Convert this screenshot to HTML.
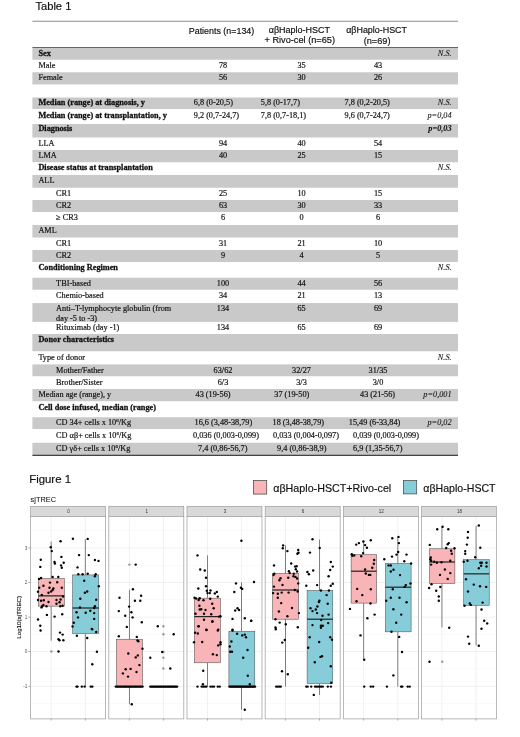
<!DOCTYPE html>
<html lang="en"><head><meta charset="utf-8"><title>Table 1 / Figure 1</title>
<style>html,body{margin:0;padding:0;background:#fff;}body{width:520px;height:737px;overflow:hidden;font-family:"Liberation Sans",sans-serif;}text{white-space:pre}</style>
</head><body>
<svg width="520" height="737" viewBox="0 0 520 737" style="display:block">
<rect x="32.4" y="47.75" width="425.6" height="12.00" fill="#c9c9c9"/>
<rect x="32.4" y="72.25" width="425.6" height="12.15" fill="#c9c9c9"/>
<rect x="32.4" y="97.5" width="425.6" height="11.50" fill="#c9c9c9"/>
<rect x="32.4" y="124" width="425.6" height="13.50" fill="#c9c9c9"/>
<rect x="32.4" y="150" width="425.6" height="12.25" fill="#c9c9c9"/>
<rect x="32.4" y="175" width="425.6" height="12.75" fill="#c9c9c9"/>
<rect x="32.4" y="200" width="425.6" height="12.00" fill="#c9c9c9"/>
<rect x="32.4" y="225" width="425.6" height="12.50" fill="#c9c9c9"/>
<rect x="32.4" y="250" width="425.6" height="12.00" fill="#c9c9c9"/>
<rect x="32.4" y="277.75" width="425.6" height="12.00" fill="#c9c9c9"/>
<rect x="32.4" y="303.1" width="425.6" height="18.80" fill="#c9c9c9"/>
<rect x="32.4" y="334" width="425.6" height="17.25" fill="#c9c9c9"/>
<rect x="32.4" y="364.4" width="425.6" height="11.85" fill="#c9c9c9"/>
<rect x="32.4" y="389" width="425.6" height="12.25" fill="#c9c9c9"/>
<rect x="32.4" y="417.25" width="425.6" height="11.75" fill="#c9c9c9"/>
<rect x="32.4" y="442.75" width="425.6" height="12.15" fill="#c9c9c9"/>
<rect x="32.4" y="20.8" width="425.6" height="0.75" fill="#666"/>
<rect x="32.4" y="47.0" width="425.6" height="0.9" fill="#555"/>
<rect x="32.4" y="454.7" width="425.6" height="1.3" fill="#444"/>
<text x="35.4" y="10" font-family="'Liberation Sans', sans-serif" font-size="11.6" textLength="36" lengthAdjust="spacingAndGlyphs" fill="#111" stroke="#111" stroke-width="0.18" >Table 1</text>
<text x="221.5" y="33.6" font-family="'Liberation Sans', sans-serif" font-size="9.5" text-anchor="middle" textLength="65.5" lengthAdjust="spacingAndGlyphs" fill="#111" stroke="#111" stroke-width="0.18" >Patients (n=134)</text>
<text x="299.4" y="32.6" font-family="'Liberation Sans', sans-serif" font-size="9.5" text-anchor="middle" textLength="61.3" lengthAdjust="spacingAndGlyphs" fill="#111" stroke="#111" stroke-width="0.18" >αβHaplo-HSCT</text>
<text x="299.75" y="43.3" font-family="'Liberation Sans', sans-serif" font-size="9.5" text-anchor="middle" textLength="70.5" lengthAdjust="spacingAndGlyphs" fill="#111" stroke="#111" stroke-width="0.18" >+ Rivo-cel (n=65)</text>
<text x="376.6" y="32.9" font-family="'Liberation Sans', sans-serif" font-size="9.5" text-anchor="middle" textLength="60.8" lengthAdjust="spacingAndGlyphs" fill="#111" stroke="#111" stroke-width="0.18" >αβHaplo-HSCT</text>
<text x="377.1" y="43.7" font-family="'Liberation Sans', sans-serif" font-size="9.5" text-anchor="middle" textLength="26.8" lengthAdjust="spacingAndGlyphs" fill="#111" stroke="#111" stroke-width="0.18" >(n=69)</text>
<text x="38.4" y="55.95" font-family="'Liberation Serif', serif" font-size="8.25" font-weight="bold" fill="#111" stroke="#111" stroke-width="0.28" >Sex</text>
<text x="451.6" y="55.95" font-family="'Liberation Serif', serif" font-size="8.25" text-anchor="end" font-style="italic" fill="#111" stroke="#111" stroke-width="0.08" >N.S.</text>
<text x="38.4" y="68.1" font-family="'Liberation Serif', serif" font-size="8.25" fill="#111" stroke="#111" stroke-width="0.18" >Male</text>
<text x="223" y="68.1" font-family="'Liberation Serif', serif" font-size="8.25" text-anchor="middle" fill="#111" stroke="#111" stroke-width="0.18" >78</text>
<text x="301.5" y="68.1" font-family="'Liberation Serif', serif" font-size="8.25" text-anchor="middle" fill="#111" stroke="#111" stroke-width="0.18" >35</text>
<text x="378" y="68.1" font-family="'Liberation Serif', serif" font-size="8.25" text-anchor="middle" fill="#111" stroke="#111" stroke-width="0.18" >43</text>
<text x="38.4" y="80.35" font-family="'Liberation Serif', serif" font-size="8.25" fill="#111" stroke="#111" stroke-width="0.18" >Female</text>
<text x="223" y="80.35" font-family="'Liberation Serif', serif" font-size="8.25" text-anchor="middle" fill="#111" stroke="#111" stroke-width="0.18" >56</text>
<text x="301.5" y="80.35" font-family="'Liberation Serif', serif" font-size="8.25" text-anchor="middle" fill="#111" stroke="#111" stroke-width="0.18" >30</text>
<text x="378" y="80.35" font-family="'Liberation Serif', serif" font-size="8.25" text-anchor="middle" fill="#111" stroke="#111" stroke-width="0.18" >26</text>
<text x="38.4" y="105.1" font-family="'Liberation Serif', serif" font-size="8.25" font-weight="bold" fill="#111" stroke="#111" stroke-width="0.28" >Median (range) at diagnosis, y</text>
<text x="193.75" y="105.1" font-family="'Liberation Serif', serif" font-size="8.25" fill="#111" stroke="#111" stroke-width="0.18" >6,8 (0-20,5)</text>
<text x="260.75" y="105.1" font-family="'Liberation Serif', serif" font-size="8.25" fill="#111" stroke="#111" stroke-width="0.18" >5,8 (0-17,7)</text>
<text x="344.5" y="105.1" font-family="'Liberation Serif', serif" font-size="8.25" fill="#111" stroke="#111" stroke-width="0.18" >7,8 (0,2-20,5)</text>
<text x="451.6" y="105.1" font-family="'Liberation Serif', serif" font-size="8.25" text-anchor="end" font-style="italic" fill="#111" stroke="#111" stroke-width="0.08" >N.S.</text>
<text x="38.4" y="118.1" font-family="'Liberation Serif', serif" font-size="8.25" font-weight="bold" fill="#111" stroke="#111" stroke-width="0.28" >Median (range) at transplantation, y</text>
<text x="193.75" y="118.1" font-family="'Liberation Serif', serif" font-size="8.25" fill="#111" stroke="#111" stroke-width="0.18" >9,2 (0,7-24,7)</text>
<text x="260.75" y="118.1" font-family="'Liberation Serif', serif" font-size="8.25" fill="#111" stroke="#111" stroke-width="0.18" >7,8 (0,7-18,1)</text>
<text x="344.5" y="118.1" font-family="'Liberation Serif', serif" font-size="8.25" fill="#111" stroke="#111" stroke-width="0.18" >9,6 (0,7-24,7)</text>
<text x="451.6" y="118.1" font-family="'Liberation Serif', serif" font-size="8.25" text-anchor="end" font-style="italic" fill="#111" stroke="#111" stroke-width="0.08" >p=0,04</text>
<text x="38.4" y="131.35" font-family="'Liberation Serif', serif" font-size="8.25" font-weight="bold" fill="#111" stroke="#111" stroke-width="0.28" >Diagnosis</text>
<text x="451.6" y="131.35" font-family="'Liberation Serif', serif" font-size="8.25" text-anchor="end" font-weight="bold" font-style="italic" fill="#111" stroke="#111" stroke-width="0.08" >p=0,03</text>
<text x="38.4" y="146.15" font-family="'Liberation Serif', serif" font-size="8.25" fill="#111" stroke="#111" stroke-width="0.18" >LLA</text>
<text x="223" y="146.15" font-family="'Liberation Serif', serif" font-size="8.25" text-anchor="middle" fill="#111" stroke="#111" stroke-width="0.18" >94</text>
<text x="301.5" y="146.15" font-family="'Liberation Serif', serif" font-size="8.25" text-anchor="middle" fill="#111" stroke="#111" stroke-width="0.18" >40</text>
<text x="378" y="146.15" font-family="'Liberation Serif', serif" font-size="8.25" text-anchor="middle" fill="#111" stroke="#111" stroke-width="0.18" >54</text>
<text x="38.4" y="157.85" font-family="'Liberation Serif', serif" font-size="8.25" fill="#111" stroke="#111" stroke-width="0.18" >LMA</text>
<text x="223" y="157.85" font-family="'Liberation Serif', serif" font-size="8.25" text-anchor="middle" fill="#111" stroke="#111" stroke-width="0.18" >40</text>
<text x="301.5" y="157.85" font-family="'Liberation Serif', serif" font-size="8.25" text-anchor="middle" fill="#111" stroke="#111" stroke-width="0.18" >25</text>
<text x="378" y="157.85" font-family="'Liberation Serif', serif" font-size="8.25" text-anchor="middle" fill="#111" stroke="#111" stroke-width="0.18" >15</text>
<text x="38.4" y="170.35" font-family="'Liberation Serif', serif" font-size="8.25" font-weight="bold" fill="#111" stroke="#111" stroke-width="0.28" >Disease status at transplantation</text>
<text x="451.6" y="170.35" font-family="'Liberation Serif', serif" font-size="8.25" text-anchor="end" font-style="italic" fill="#111" stroke="#111" stroke-width="0.08" >N.S.</text>
<text x="38.4" y="183.35" font-family="'Liberation Serif', serif" font-size="8.25" fill="#111" stroke="#111" stroke-width="0.18" >ALL</text>
<text x="56.1" y="195.75" font-family="'Liberation Serif', serif" font-size="8.25" fill="#111" stroke="#111" stroke-width="0.18" >CR1</text>
<text x="223" y="195.75" font-family="'Liberation Serif', serif" font-size="8.25" text-anchor="middle" fill="#111" stroke="#111" stroke-width="0.18" >25</text>
<text x="301.5" y="195.75" font-family="'Liberation Serif', serif" font-size="8.25" text-anchor="middle" fill="#111" stroke="#111" stroke-width="0.18" >10</text>
<text x="378" y="195.75" font-family="'Liberation Serif', serif" font-size="8.25" text-anchor="middle" fill="#111" stroke="#111" stroke-width="0.18" >15</text>
<text x="56.1" y="207.85" font-family="'Liberation Serif', serif" font-size="8.25" fill="#111" stroke="#111" stroke-width="0.18" >CR2</text>
<text x="223" y="207.85" font-family="'Liberation Serif', serif" font-size="8.25" text-anchor="middle" fill="#111" stroke="#111" stroke-width="0.18" >63</text>
<text x="301.5" y="207.85" font-family="'Liberation Serif', serif" font-size="8.25" text-anchor="middle" fill="#111" stroke="#111" stroke-width="0.18" >30</text>
<text x="378" y="207.85" font-family="'Liberation Serif', serif" font-size="8.25" text-anchor="middle" fill="#111" stroke="#111" stroke-width="0.18" >33</text>
<text x="56.1" y="220.35" font-family="'Liberation Serif', serif" font-size="8.25" fill="#111" stroke="#111" stroke-width="0.18" >≥ CR3</text>
<text x="223" y="220.35" font-family="'Liberation Serif', serif" font-size="8.25" text-anchor="middle" fill="#111" stroke="#111" stroke-width="0.18" >6</text>
<text x="301.5" y="220.35" font-family="'Liberation Serif', serif" font-size="8.25" text-anchor="middle" fill="#111" stroke="#111" stroke-width="0.18" >0</text>
<text x="378" y="220.35" font-family="'Liberation Serif', serif" font-size="8.25" text-anchor="middle" fill="#111" stroke="#111" stroke-width="0.18" >6</text>
<text x="38.4" y="233.35" font-family="'Liberation Serif', serif" font-size="8.25" fill="#111" stroke="#111" stroke-width="0.18" >AML</text>
<text x="56.1" y="245.75" font-family="'Liberation Serif', serif" font-size="8.25" fill="#111" stroke="#111" stroke-width="0.18" >CR1</text>
<text x="223" y="245.75" font-family="'Liberation Serif', serif" font-size="8.25" text-anchor="middle" fill="#111" stroke="#111" stroke-width="0.18" >31</text>
<text x="301.5" y="245.75" font-family="'Liberation Serif', serif" font-size="8.25" text-anchor="middle" fill="#111" stroke="#111" stroke-width="0.18" >21</text>
<text x="378" y="245.75" font-family="'Liberation Serif', serif" font-size="8.25" text-anchor="middle" fill="#111" stroke="#111" stroke-width="0.18" >10</text>
<text x="56.1" y="257.85" font-family="'Liberation Serif', serif" font-size="8.25" fill="#111" stroke="#111" stroke-width="0.18" >CR2</text>
<text x="223" y="257.85" font-family="'Liberation Serif', serif" font-size="8.25" text-anchor="middle" fill="#111" stroke="#111" stroke-width="0.18" >9</text>
<text x="301.5" y="257.85" font-family="'Liberation Serif', serif" font-size="8.25" text-anchor="middle" fill="#111" stroke="#111" stroke-width="0.18" >4</text>
<text x="378" y="257.85" font-family="'Liberation Serif', serif" font-size="8.25" text-anchor="middle" fill="#111" stroke="#111" stroke-width="0.18" >5</text>
<text x="38.4" y="270.1" font-family="'Liberation Serif', serif" font-size="8.25" font-weight="bold" fill="#111" stroke="#111" stroke-width="0.28" >Conditioning Regimen</text>
<text x="451.6" y="270.1" font-family="'Liberation Serif', serif" font-size="8.25" text-anchor="end" font-style="italic" fill="#111" stroke="#111" stroke-width="0.08" >N.S.</text>
<text x="56.1" y="285.6" font-family="'Liberation Serif', serif" font-size="8.25" fill="#111" stroke="#111" stroke-width="0.18" >TBI-based</text>
<text x="223" y="285.6" font-family="'Liberation Serif', serif" font-size="8.25" text-anchor="middle" fill="#111" stroke="#111" stroke-width="0.18" >100</text>
<text x="301.5" y="285.6" font-family="'Liberation Serif', serif" font-size="8.25" text-anchor="middle" fill="#111" stroke="#111" stroke-width="0.18" >44</text>
<text x="378" y="285.6" font-family="'Liberation Serif', serif" font-size="8.25" text-anchor="middle" fill="#111" stroke="#111" stroke-width="0.18" >56</text>
<text x="56.1" y="297.85" font-family="'Liberation Serif', serif" font-size="8.25" fill="#111" stroke="#111" stroke-width="0.18" >Chemio-based</text>
<text x="223" y="297.85" font-family="'Liberation Serif', serif" font-size="8.25" text-anchor="middle" fill="#111" stroke="#111" stroke-width="0.18" >34</text>
<text x="301.5" y="297.85" font-family="'Liberation Serif', serif" font-size="8.25" text-anchor="middle" fill="#111" stroke="#111" stroke-width="0.18" >21</text>
<text x="378" y="297.85" font-family="'Liberation Serif', serif" font-size="8.25" text-anchor="middle" fill="#111" stroke="#111" stroke-width="0.18" >13</text>
<text x="56.1" y="310.95" font-family="'Liberation Serif', serif" font-size="8.25" fill="#111" stroke="#111" stroke-width="0.18" >Anti–T-lymphocyte globulin (from</text>
<text x="223" y="310.95" font-family="'Liberation Serif', serif" font-size="8.25" text-anchor="middle" fill="#111" stroke="#111" stroke-width="0.18" >134</text>
<text x="301.5" y="310.95" font-family="'Liberation Serif', serif" font-size="8.25" text-anchor="middle" fill="#111" stroke="#111" stroke-width="0.18" >65</text>
<text x="378" y="310.95" font-family="'Liberation Serif', serif" font-size="8.25" text-anchor="middle" fill="#111" stroke="#111" stroke-width="0.18" >69</text>
<text x="56.1" y="321.25" font-family="'Liberation Serif', serif" font-size="8.25" fill="#111" stroke="#111" stroke-width="0.18" >day -5 to -3)</text>
<text x="56.1" y="330.15" font-family="'Liberation Serif', serif" font-size="8.25" fill="#111" stroke="#111" stroke-width="0.18" >Rituximab (day -1)</text>
<text x="223" y="330.15" font-family="'Liberation Serif', serif" font-size="8.25" text-anchor="middle" fill="#111" stroke="#111" stroke-width="0.18" >134</text>
<text x="301.5" y="330.15" font-family="'Liberation Serif', serif" font-size="8.25" text-anchor="middle" fill="#111" stroke="#111" stroke-width="0.18" >65</text>
<text x="378" y="330.15" font-family="'Liberation Serif', serif" font-size="8.25" text-anchor="middle" fill="#111" stroke="#111" stroke-width="0.18" >69</text>
<text x="38.4" y="341.85" font-family="'Liberation Serif', serif" font-size="8.25" font-weight="bold" fill="#111" stroke="#111" stroke-width="0.28" >Donor characteristics</text>
<text x="38.4" y="360.35" font-family="'Liberation Serif', serif" font-size="8.25" fill="#111" stroke="#111" stroke-width="0.18" >Type of donor</text>
<text x="451.6" y="360.35" font-family="'Liberation Serif', serif" font-size="8.25" text-anchor="end" font-style="italic" fill="#111" stroke="#111" stroke-width="0.08" >N.S.</text>
<text x="56.1" y="373.05" font-family="'Liberation Serif', serif" font-size="8.25" fill="#111" stroke="#111" stroke-width="0.18" >Mother/Father</text>
<text x="223" y="373.05" font-family="'Liberation Serif', serif" font-size="8.25" text-anchor="middle" fill="#111" stroke="#111" stroke-width="0.18" >63/62</text>
<text x="301.5" y="373.05" font-family="'Liberation Serif', serif" font-size="8.25" text-anchor="middle" fill="#111" stroke="#111" stroke-width="0.18" >32/27</text>
<text x="378" y="373.05" font-family="'Liberation Serif', serif" font-size="8.25" text-anchor="middle" fill="#111" stroke="#111" stroke-width="0.18" >31/35</text>
<text x="56.1" y="384.85" font-family="'Liberation Serif', serif" font-size="8.25" fill="#111" stroke="#111" stroke-width="0.18" >Brother/Sister</text>
<text x="223" y="384.85" font-family="'Liberation Serif', serif" font-size="8.25" text-anchor="middle" fill="#111" stroke="#111" stroke-width="0.18" >6/3</text>
<text x="301.5" y="384.85" font-family="'Liberation Serif', serif" font-size="8.25" text-anchor="middle" fill="#111" stroke="#111" stroke-width="0.18" >3/3</text>
<text x="378" y="384.85" font-family="'Liberation Serif', serif" font-size="8.25" text-anchor="middle" fill="#111" stroke="#111" stroke-width="0.18" >3/0</text>
<text x="38.4" y="397.25" font-family="'Liberation Serif', serif" font-size="8.25" fill="#111" stroke="#111" stroke-width="0.18" >Median age (range), y</text>
<text x="195.5" y="397.25" font-family="'Liberation Serif', serif" font-size="8.25" fill="#111" stroke="#111" stroke-width="0.18" >43 (19-56)</text>
<text x="274.25" y="397.25" font-family="'Liberation Serif', serif" font-size="8.25" fill="#111" stroke="#111" stroke-width="0.18" >37 (19-50)</text>
<text x="360" y="397.25" font-family="'Liberation Serif', serif" font-size="8.25" fill="#111" stroke="#111" stroke-width="0.18" >43 (21-56)</text>
<text x="451.6" y="397.25" font-family="'Liberation Serif', serif" font-size="8.25" text-anchor="end" font-style="italic" fill="#111" stroke="#111" stroke-width="0.08" >p=0,001</text>
<text x="38.4" y="409.75" font-family="'Liberation Serif', serif" font-size="8.25" font-weight="bold" fill="#111" stroke="#111" stroke-width="0.28" >Cell dose infused, median (range)</text>
<text x="56.1" y="425.35" font-family="'Liberation Serif', serif" font-size="8.25" fill="#111" stroke="#111" stroke-width="0.18" >CD 34+ cells x 10<tspan font-size="5" dy="-3">6</tspan><tspan dy="3">/Kg</tspan></text>
<text x="194.5" y="425.35" font-family="'Liberation Serif', serif" font-size="8.25" fill="#111" stroke="#111" stroke-width="0.18" >16,6 (3,48-38,79)</text>
<text x="272.5" y="425.35" font-family="'Liberation Serif', serif" font-size="8.25" fill="#111" stroke="#111" stroke-width="0.18" >18 (3,48-38,79)</text>
<text x="348.75" y="425.35" font-family="'Liberation Serif', serif" font-size="8.25" fill="#111" stroke="#111" stroke-width="0.18" >15,49 (6-33,84)</text>
<text x="451.6" y="425.35" font-family="'Liberation Serif', serif" font-size="8.25" text-anchor="end" font-style="italic" fill="#111" stroke="#111" stroke-width="0.08" >p=0,02</text>
<text x="56.1" y="437.85" font-family="'Liberation Serif', serif" font-size="8.25" fill="#111" stroke="#111" stroke-width="0.18" >CD αβ+ cells x 10<tspan font-size="5" dy="-3">6</tspan><tspan dy="3">/Kg</tspan></text>
<text x="193" y="437.85" font-family="'Liberation Serif', serif" font-size="8.25" fill="#111" stroke="#111" stroke-width="0.18" >0,036 (0,003-0,099)</text>
<text x="273" y="437.85" font-family="'Liberation Serif', serif" font-size="8.25" fill="#111" stroke="#111" stroke-width="0.18" >0,033 (0,004-0,097)</text>
<text x="353" y="437.85" font-family="'Liberation Serif', serif" font-size="8.25" fill="#111" stroke="#111" stroke-width="0.18" >0,039 (0,003-0,099)</text>
<text x="56.1" y="450.95" font-family="'Liberation Serif', serif" font-size="8.25" fill="#111" stroke="#111" stroke-width="0.18" >CD γδ+ cells x 10<tspan font-size="5" dy="-3">6</tspan><tspan dy="3">/Kg</tspan></text>
<text x="198" y="450.95" font-family="'Liberation Serif', serif" font-size="8.25" fill="#111" stroke="#111" stroke-width="0.18" >7,4 (0,86-56,7)</text>
<text x="277" y="450.95" font-family="'Liberation Serif', serif" font-size="8.25" fill="#111" stroke="#111" stroke-width="0.18" >9,4 (0,86-38,9)</text>
<text x="353" y="450.95" font-family="'Liberation Serif', serif" font-size="8.25" fill="#111" stroke="#111" stroke-width="0.18" >6,9 (1,35-56,7)</text>
<text x="29.2" y="483.3" font-family="'Liberation Sans', sans-serif" font-size="11.6" textLength="41.8" lengthAdjust="spacingAndGlyphs" fill="#111" stroke="#111" stroke-width="0.18" >Figure 1</text>
<text x="30.6" y="501.9" font-family="'Liberation Sans', sans-serif" font-size="7.3" textLength="25.4" lengthAdjust="spacingAndGlyphs" fill="#111" stroke="#111" stroke-width="0.05" >sjTREC</text>
<rect x="253.4" y="480.5" width="13.3" height="13.6" fill="#f8b4b6" stroke="#4a4a4a" stroke-width="0.75"/>
<text x="273.25" y="492" font-family="'Liberation Sans', sans-serif" font-size="11.6" textLength="118" lengthAdjust="spacingAndGlyphs" fill="#111" stroke="#111" stroke-width="0.18" >αβHaplo-HSCT+Rivo-cel</text>
<rect x="403.4" y="480.5" width="13.3" height="13.4" fill="#86ccd9" stroke="#4a4a4a" stroke-width="0.75"/>
<text x="423.3" y="491.7" font-family="'Liberation Sans', sans-serif" font-size="11.6" textLength="72.3" lengthAdjust="spacingAndGlyphs" fill="#111" stroke="#111" stroke-width="0.18" >αβHaplo-HSCT</text>
<text x="0" y="0" font-family="'Liberation Sans', sans-serif" font-size="6.0" text-anchor="middle" textLength="43" lengthAdjust="spacingAndGlyphs" fill="#111" stroke="#111" stroke-width="0.12" transform="translate(20.6,617.3) rotate(-90)">Log10(sjTREC)</text>
<text x="27.3" y="549.5" font-family="'Liberation Sans', sans-serif" font-size="4.7" text-anchor="end" fill="#555" stroke="#555" stroke-width="0" >3</text>
<rect x="28.3" y="547.75" width="2.2" height="0.5" fill="#555"/>
<text x="27.3" y="584.05" font-family="'Liberation Sans', sans-serif" font-size="4.7" text-anchor="end" fill="#555" stroke="#555" stroke-width="0" >2</text>
<rect x="28.3" y="582.30" width="2.2" height="0.5" fill="#555"/>
<text x="27.3" y="618.6" font-family="'Liberation Sans', sans-serif" font-size="4.7" text-anchor="end" fill="#555" stroke="#555" stroke-width="0" >1</text>
<rect x="28.3" y="616.85" width="2.2" height="0.5" fill="#555"/>
<text x="27.3" y="653.15" font-family="'Liberation Sans', sans-serif" font-size="4.7" text-anchor="end" fill="#555" stroke="#555" stroke-width="0" >0</text>
<rect x="28.3" y="651.40" width="2.2" height="0.5" fill="#555"/>
<text x="27.3" y="687.6999999999999" font-family="'Liberation Sans', sans-serif" font-size="4.7" text-anchor="end" fill="#555" stroke="#555" stroke-width="0" >-1</text>
<rect x="28.3" y="685.95" width="2.2" height="0.5" fill="#555"/>
<rect x="30.65" y="506.3" width="75.0" height="10.10" fill="#d9d9d9" stroke="#8c8c8c" stroke-width="0.55"/>
<text x="68.55000000000001" y="513.3" font-family="'Liberation Sans', sans-serif" font-size="4.5" text-anchor="middle" fill="#333" stroke="#333" stroke-width="0" >0</text>
<rect x="30.65" y="516.4" width="75.0" height="202.50" fill="#fff"/>
<rect x="30.65" y="530.52" width="75.0" height="0.4" fill="#f2f2f2"/>
<rect x="30.65" y="565.07" width="75.0" height="0.4" fill="#f2f2f2"/>
<rect x="30.65" y="599.62" width="75.0" height="0.4" fill="#f2f2f2"/>
<rect x="30.65" y="634.17" width="75.0" height="0.4" fill="#f2f2f2"/>
<rect x="30.65" y="668.72" width="75.0" height="0.4" fill="#f2f2f2"/>
<rect x="30.65" y="703.27" width="75.0" height="0.4" fill="#f2f2f2"/>
<rect x="30.65" y="547.70" width="75.0" height="0.6" fill="#e8e8e8"/>
<rect x="30.65" y="582.25" width="75.0" height="0.6" fill="#e8e8e8"/>
<rect x="30.65" y="616.80" width="75.0" height="0.6" fill="#e8e8e8"/>
<rect x="30.65" y="651.35" width="75.0" height="0.6" fill="#e8e8e8"/>
<rect x="30.65" y="685.90" width="75.0" height="0.6" fill="#e8e8e8"/>
<rect x="50.80" y="516.4" width="0.6" height="202.50" fill="#e8e8e8"/>
<rect x="50.85" y="718.9" width="0.5" height="1.6" fill="#555"/>
<rect x="84.90" y="516.4" width="0.6" height="202.50" fill="#e8e8e8"/>
<rect x="84.95" y="718.9" width="0.5" height="1.6" fill="#555"/>
<rect x="50.80" y="541.5" width="0.6" height="37.00" fill="#333"/>
<rect x="50.80" y="606.15" width="0.6" height="34.65" fill="#333"/>
<rect x="38.3" y="578.5" width="26.00" height="27.65" fill="#f8b4b6" stroke="#444" stroke-width="0.5"/>
<rect x="38.3" y="595.25" width="26.00" height="1.2" fill="#222"/>
<rect x="84.90" y="539.2" width="0.6" height="35.70" fill="#333"/>
<rect x="84.90" y="633.5" width="0.6" height="53.10" fill="#333"/>
<rect x="72.6" y="574.9" width="26.20" height="58.60" fill="#86ccd9" stroke="#444" stroke-width="0.5"/>
<rect x="72.6" y="607.40" width="26.20" height="1.2" fill="#222"/>
<circle cx="60.6" cy="541.2" r="1.2" fill="#000"/>
<circle cx="50.8" cy="547.2" r="1.2" fill="#000"/>
<circle cx="51.8" cy="551.1" r="1.2" fill="#000"/>
<circle cx="40.8" cy="559.7" r="1.2" fill="#000"/>
<circle cx="61.4" cy="556.9" r="1.2" fill="#000"/>
<circle cx="54.5" cy="562.0" r="1.2" fill="#000"/>
<circle cx="54.9" cy="563.5" r="1.2" fill="#000"/>
<circle cx="63.7" cy="562.8" r="1.2" fill="#000"/>
<circle cx="61.1" cy="565.4" r="1.2" fill="#000"/>
<circle cx="40.3" cy="566.9" r="1.2" fill="#000"/>
<circle cx="61.8" cy="567.7" r="1.2" fill="#000"/>
<circle cx="52.6" cy="576.9" r="1.2" fill="#000"/>
<circle cx="58.3" cy="576.9" r="1.2" fill="#000"/>
<circle cx="41.1" cy="578.0" r="1.2" fill="#000"/>
<circle cx="39.1" cy="578.9" r="1.2" fill="#000"/>
<circle cx="50.0" cy="582.6" r="1.2" fill="#000"/>
<circle cx="57.2" cy="582.3" r="1.2" fill="#000"/>
<circle cx="43.4" cy="585.7" r="1.2" fill="#000"/>
<circle cx="39.2" cy="587.7" r="1.2" fill="#000"/>
<circle cx="49.5" cy="587.7" r="1.2" fill="#000"/>
<circle cx="53.4" cy="588.5" r="1.2" fill="#000"/>
<circle cx="61.8" cy="587.7" r="1.2" fill="#000"/>
<circle cx="52.6" cy="590.0" r="1.2" fill="#000"/>
<circle cx="51.1" cy="591.5" r="1.2" fill="#000"/>
<circle cx="38.0" cy="591.8" r="1.2" fill="#000"/>
<circle cx="48.5" cy="592.8" r="1.2" fill="#000"/>
<circle cx="41.8" cy="594.9" r="1.2" fill="#000"/>
<circle cx="63.1" cy="596.5" r="1.2" fill="#000"/>
<circle cx="38.0" cy="600.0" r="1.2" fill="#000"/>
<circle cx="41.1" cy="600.8" r="1.2" fill="#000"/>
<circle cx="43.8" cy="600.3" r="1.2" fill="#000"/>
<circle cx="48.5" cy="602.0" r="1.2" fill="#000"/>
<circle cx="56.5" cy="600.0" r="1.2" fill="#000"/>
<circle cx="60.6" cy="599.5" r="1.2" fill="#000"/>
<circle cx="59.5" cy="602.3" r="1.2" fill="#000"/>
<circle cx="56.5" cy="603.8" r="1.2" fill="#000"/>
<circle cx="43.4" cy="604.9" r="1.2" fill="#000"/>
<circle cx="42.2" cy="606.2" r="1.2" fill="#000"/>
<circle cx="46.5" cy="606.2" r="1.2" fill="#000"/>
<circle cx="41.5" cy="607.4" r="1.2" fill="#000"/>
<circle cx="60.3" cy="606.2" r="1.2" fill="#000"/>
<circle cx="62.6" cy="605.8" r="1.2" fill="#000"/>
<circle cx="46.9" cy="614.9" r="1.2" fill="#000"/>
<circle cx="62.2" cy="614.3" r="1.2" fill="#000"/>
<circle cx="54.6" cy="616.6" r="1.2" fill="#000"/>
<circle cx="38.0" cy="619.5" r="1.2" fill="#000"/>
<circle cx="40.3" cy="625.7" r="1.2" fill="#000"/>
<circle cx="72.9" cy="538.8" r="1.2" fill="#000"/>
<circle cx="87.7" cy="538.9" r="1.2" fill="#000"/>
<circle cx="79.1" cy="555.1" r="1.2" fill="#000"/>
<circle cx="88.8" cy="555.1" r="1.2" fill="#000"/>
<circle cx="94.9" cy="560.0" r="1.2" fill="#000"/>
<circle cx="98.5" cy="560.9" r="1.2" fill="#000"/>
<circle cx="77.5" cy="567.4" r="1.2" fill="#000"/>
<circle cx="78.3" cy="574.2" r="1.2" fill="#000"/>
<circle cx="82.6" cy="574.2" r="1.2" fill="#000"/>
<circle cx="87.7" cy="573.8" r="1.2" fill="#000"/>
<circle cx="95.7" cy="574.2" r="1.2" fill="#000"/>
<circle cx="94.9" cy="576.2" r="1.2" fill="#000"/>
<circle cx="84.2" cy="580.8" r="1.2" fill="#000"/>
<circle cx="98.8" cy="586.2" r="1.2" fill="#000"/>
<circle cx="87.2" cy="591.5" r="1.2" fill="#000"/>
<circle cx="84.9" cy="592.8" r="1.2" fill="#000"/>
<circle cx="80.3" cy="598.8" r="1.2" fill="#000"/>
<circle cx="96.2" cy="599.7" r="1.2" fill="#000"/>
<circle cx="94.9" cy="606.2" r="1.2" fill="#000"/>
<circle cx="80.0" cy="607.4" r="1.2" fill="#000"/>
<circle cx="94.2" cy="608.0" r="1.2" fill="#000"/>
<circle cx="90.3" cy="610.8" r="1.2" fill="#000"/>
<circle cx="76.5" cy="612.3" r="1.2" fill="#000"/>
<circle cx="85.7" cy="612.8" r="1.2" fill="#000"/>
<circle cx="94.2" cy="613.1" r="1.2" fill="#000"/>
<circle cx="78.0" cy="617.4" r="1.2" fill="#000"/>
<circle cx="94.2" cy="618.9" r="1.2" fill="#000"/>
<circle cx="73.8" cy="622.8" r="1.2" fill="#000"/>
<circle cx="72.6" cy="626.5" r="1.2" fill="#000"/>
<circle cx="91.8" cy="628.9" r="1.2" fill="#000"/>
<circle cx="40.6" cy="630.5" r="1.2" fill="#000"/>
<circle cx="60.0" cy="632.6" r="1.2" fill="#000"/>
<circle cx="62.6" cy="634.6" r="1.2" fill="#000"/>
<circle cx="58.5" cy="639.2" r="1.2" fill="#000"/>
<circle cx="59.5" cy="640.3" r="1.2" fill="#000"/>
<circle cx="63.4" cy="640.3" r="1.2" fill="#000"/>
<circle cx="58.5" cy="651.5" r="1.2" fill="#000"/>
<circle cx="51.4" cy="651.5" r="1.2" fill="#999"/>
<circle cx="92.2" cy="629.2" r="1.2" fill="#000"/>
<circle cx="96.2" cy="632.0" r="1.2" fill="#000"/>
<circle cx="76.9" cy="635.7" r="1.2" fill="#000"/>
<circle cx="87.2" cy="638.0" r="1.2" fill="#000"/>
<circle cx="96.9" cy="651.8" r="1.2" fill="#000"/>
<circle cx="92.3" cy="664.2" r="1.2" fill="#000"/>
<circle cx="76.5" cy="686.6" r="1.2" fill="#000"/>
<circle cx="77.5" cy="686.6" r="1.2" fill="#000"/>
<circle cx="81.8" cy="686.6" r="1.2" fill="#000"/>
<circle cx="84.6" cy="686.6" r="1.2" fill="#000"/>
<circle cx="90.8" cy="686.6" r="1.2" fill="#000"/>
<circle cx="92.3" cy="686.6" r="1.2" fill="#000"/>
<rect x="30.65" y="516.4" width="75.0" height="202.50" fill="none" stroke="#9a9a9a" stroke-width="0.7"/>
<rect x="108.82" y="506.3" width="75.0" height="10.10" fill="#d9d9d9" stroke="#8c8c8c" stroke-width="0.55"/>
<text x="146.72" y="513.3" font-family="'Liberation Sans', sans-serif" font-size="4.5" text-anchor="middle" fill="#333" stroke="#333" stroke-width="0" >1</text>
<rect x="108.82" y="516.4" width="75.0" height="202.50" fill="#fff"/>
<rect x="108.82" y="530.52" width="75.0" height="0.4" fill="#f2f2f2"/>
<rect x="108.82" y="565.07" width="75.0" height="0.4" fill="#f2f2f2"/>
<rect x="108.82" y="599.62" width="75.0" height="0.4" fill="#f2f2f2"/>
<rect x="108.82" y="634.17" width="75.0" height="0.4" fill="#f2f2f2"/>
<rect x="108.82" y="668.72" width="75.0" height="0.4" fill="#f2f2f2"/>
<rect x="108.82" y="703.27" width="75.0" height="0.4" fill="#f2f2f2"/>
<rect x="108.82" y="547.70" width="75.0" height="0.6" fill="#e8e8e8"/>
<rect x="108.82" y="582.25" width="75.0" height="0.6" fill="#e8e8e8"/>
<rect x="108.82" y="616.80" width="75.0" height="0.6" fill="#e8e8e8"/>
<rect x="108.82" y="651.35" width="75.0" height="0.6" fill="#e8e8e8"/>
<rect x="108.82" y="685.90" width="75.0" height="0.6" fill="#e8e8e8"/>
<rect x="128.97" y="516.4" width="0.6" height="202.50" fill="#e8e8e8"/>
<rect x="129.02" y="718.9" width="0.5" height="1.6" fill="#555"/>
<rect x="163.07" y="516.4" width="0.6" height="202.50" fill="#e8e8e8"/>
<rect x="163.12" y="718.9" width="0.5" height="1.6" fill="#555"/>
<rect x="128.97" y="589.7" width="0.6" height="49.50" fill="#333"/>
<rect x="128.97" y="686.6" width="0.6" height="17.70" fill="#333"/>
<rect x="116.3" y="639.2" width="26.20" height="47.40" fill="#f8b4b6" stroke="#444" stroke-width="0.5"/>
<rect x="116.3" y="686.00" width="26.20" height="1.2" fill="#222"/>
<rect x="149.9" y="686.00" width="27.70" height="1.2" fill="#222"/>
<circle cx="129.4" cy="564.6" r="1.2" fill="#999"/>
<circle cx="135.7" cy="564.6" r="1.2" fill="#000"/>
<circle cx="132.9" cy="589.2" r="1.2" fill="#000"/>
<circle cx="141.1" cy="595.8" r="1.2" fill="#000"/>
<circle cx="119.5" cy="597.7" r="1.2" fill="#000"/>
<circle cx="134.9" cy="600.8" r="1.2" fill="#000"/>
<circle cx="140.3" cy="600.8" r="1.2" fill="#000"/>
<circle cx="129.1" cy="606.6" r="1.2" fill="#000"/>
<circle cx="118.8" cy="611.1" r="1.2" fill="#000"/>
<circle cx="131.4" cy="612.3" r="1.2" fill="#000"/>
<circle cx="125.2" cy="615.8" r="1.2" fill="#000"/>
<circle cx="132.6" cy="617.4" r="1.2" fill="#000"/>
<circle cx="141.8" cy="622.3" r="1.2" fill="#000"/>
<circle cx="126.8" cy="626.9" r="1.2" fill="#000"/>
<circle cx="157.8" cy="626.2" r="1.2" fill="#000"/>
<circle cx="163.4" cy="626.2" r="1.2" fill="#999"/>
<circle cx="118.8" cy="636.2" r="1.2" fill="#000"/>
<circle cx="136.8" cy="636.9" r="1.2" fill="#000"/>
<circle cx="137.5" cy="640.5" r="1.2" fill="#000"/>
<circle cx="138.3" cy="641.2" r="1.2" fill="#000"/>
<circle cx="142.5" cy="648.8" r="1.2" fill="#000"/>
<circle cx="128.3" cy="653.5" r="1.2" fill="#000"/>
<circle cx="137.8" cy="655.4" r="1.2" fill="#000"/>
<circle cx="135.7" cy="657.4" r="1.2" fill="#000"/>
<circle cx="139.4" cy="665.1" r="1.2" fill="#000"/>
<circle cx="125.7" cy="669.2" r="1.2" fill="#000"/>
<circle cx="130.6" cy="668.9" r="1.2" fill="#000"/>
<circle cx="136.5" cy="672.0" r="1.2" fill="#000"/>
<circle cx="122.9" cy="673.4" r="1.2" fill="#000"/>
<circle cx="128.0" cy="676.6" r="1.2" fill="#000"/>
<circle cx="131.8" cy="704.3" r="1.2" fill="#000"/>
<circle cx="115.8" cy="686.6" r="1.2" fill="#000"/>
<circle cx="117.1" cy="686.6" r="1.2" fill="#000"/>
<circle cx="118.4" cy="686.6" r="1.2" fill="#000"/>
<circle cx="119.7" cy="686.6" r="1.2" fill="#000"/>
<circle cx="120.9" cy="686.6" r="1.2" fill="#000"/>
<circle cx="122.2" cy="686.6" r="1.2" fill="#000"/>
<circle cx="123.5" cy="686.6" r="1.2" fill="#000"/>
<circle cx="124.8" cy="686.6" r="1.2" fill="#000"/>
<circle cx="126.0" cy="686.6" r="1.2" fill="#000"/>
<circle cx="127.3" cy="686.6" r="1.2" fill="#000"/>
<circle cx="128.6" cy="686.6" r="1.2" fill="#000"/>
<circle cx="129.9" cy="686.6" r="1.2" fill="#000"/>
<circle cx="131.1" cy="686.6" r="1.2" fill="#000"/>
<circle cx="132.4" cy="686.6" r="1.2" fill="#000"/>
<circle cx="133.7" cy="686.6" r="1.2" fill="#000"/>
<circle cx="135.0" cy="686.6" r="1.2" fill="#000"/>
<circle cx="136.2" cy="686.6" r="1.2" fill="#000"/>
<circle cx="137.5" cy="686.6" r="1.2" fill="#000"/>
<circle cx="138.8" cy="686.6" r="1.2" fill="#000"/>
<circle cx="140.1" cy="686.6" r="1.2" fill="#000"/>
<circle cx="141.3" cy="686.6" r="1.2" fill="#000"/>
<circle cx="142.6" cy="686.6" r="1.2" fill="#000"/>
<circle cx="163.4" cy="634.2" r="1.2" fill="#999"/>
<circle cx="163.4" cy="652.0" r="1.2" fill="#999"/>
<circle cx="163.4" cy="657.7" r="1.2" fill="#999"/>
<circle cx="163.4" cy="668.5" r="1.2" fill="#999"/>
<circle cx="173.7" cy="634.2" r="1.2" fill="#000"/>
<circle cx="162.2" cy="652.0" r="1.2" fill="#000"/>
<circle cx="150.3" cy="657.7" r="1.2" fill="#000"/>
<circle cx="170.3" cy="668.5" r="1.2" fill="#000"/>
<circle cx="150.3" cy="686.6" r="1.2" fill="#000"/>
<circle cx="151.5" cy="686.6" r="1.2" fill="#000"/>
<circle cx="152.6" cy="686.6" r="1.2" fill="#000"/>
<circle cx="153.8" cy="686.6" r="1.2" fill="#000"/>
<circle cx="155.0" cy="686.6" r="1.2" fill="#000"/>
<circle cx="156.1" cy="686.6" r="1.2" fill="#000"/>
<circle cx="157.3" cy="686.6" r="1.2" fill="#000"/>
<circle cx="158.5" cy="686.6" r="1.2" fill="#000"/>
<circle cx="159.6" cy="686.6" r="1.2" fill="#000"/>
<circle cx="160.8" cy="686.6" r="1.2" fill="#000"/>
<circle cx="161.9" cy="686.6" r="1.2" fill="#000"/>
<circle cx="163.1" cy="686.6" r="1.2" fill="#000"/>
<circle cx="164.3" cy="686.6" r="1.2" fill="#000"/>
<circle cx="165.4" cy="686.6" r="1.2" fill="#000"/>
<circle cx="166.6" cy="686.6" r="1.2" fill="#000"/>
<circle cx="167.8" cy="686.6" r="1.2" fill="#000"/>
<circle cx="168.9" cy="686.6" r="1.2" fill="#000"/>
<circle cx="170.1" cy="686.6" r="1.2" fill="#000"/>
<circle cx="171.3" cy="686.6" r="1.2" fill="#000"/>
<circle cx="172.4" cy="686.6" r="1.2" fill="#000"/>
<circle cx="173.6" cy="686.6" r="1.2" fill="#000"/>
<circle cx="174.7" cy="686.6" r="1.2" fill="#000"/>
<circle cx="175.9" cy="686.6" r="1.2" fill="#000"/>
<circle cx="177.1" cy="686.6" r="1.2" fill="#000"/>
<rect x="108.82" y="516.4" width="75.0" height="202.50" fill="none" stroke="#9a9a9a" stroke-width="0.7"/>
<rect x="186.99" y="506.3" width="75.0" height="10.10" fill="#d9d9d9" stroke="#8c8c8c" stroke-width="0.55"/>
<text x="224.89000000000001" y="513.3" font-family="'Liberation Sans', sans-serif" font-size="4.5" text-anchor="middle" fill="#333" stroke="#333" stroke-width="0" >3</text>
<rect x="186.99" y="516.4" width="75.0" height="202.50" fill="#fff"/>
<rect x="186.99" y="530.52" width="75.0" height="0.4" fill="#f2f2f2"/>
<rect x="186.99" y="565.07" width="75.0" height="0.4" fill="#f2f2f2"/>
<rect x="186.99" y="599.62" width="75.0" height="0.4" fill="#f2f2f2"/>
<rect x="186.99" y="634.17" width="75.0" height="0.4" fill="#f2f2f2"/>
<rect x="186.99" y="668.72" width="75.0" height="0.4" fill="#f2f2f2"/>
<rect x="186.99" y="703.27" width="75.0" height="0.4" fill="#f2f2f2"/>
<rect x="186.99" y="547.70" width="75.0" height="0.6" fill="#e8e8e8"/>
<rect x="186.99" y="582.25" width="75.0" height="0.6" fill="#e8e8e8"/>
<rect x="186.99" y="616.80" width="75.0" height="0.6" fill="#e8e8e8"/>
<rect x="186.99" y="651.35" width="75.0" height="0.6" fill="#e8e8e8"/>
<rect x="186.99" y="685.90" width="75.0" height="0.6" fill="#e8e8e8"/>
<rect x="207.14" y="516.4" width="0.6" height="202.50" fill="#e8e8e8"/>
<rect x="207.19" y="718.9" width="0.5" height="1.6" fill="#555"/>
<rect x="241.24" y="516.4" width="0.6" height="202.50" fill="#e8e8e8"/>
<rect x="241.29" y="718.9" width="0.5" height="1.6" fill="#555"/>
<rect x="207.14" y="555.4" width="0.6" height="42.75" fill="#333"/>
<rect x="207.14" y="662.8" width="0.6" height="23.80" fill="#333"/>
<rect x="194.3" y="598.15" width="26.20" height="64.65" fill="#f8b4b6" stroke="#444" stroke-width="0.5"/>
<rect x="194.3" y="616.00" width="26.20" height="1.2" fill="#222"/>
<rect x="241.24" y="582.3" width="0.6" height="48.90" fill="#333"/>
<rect x="241.24" y="686.6" width="0.6" height="23.10" fill="#333"/>
<rect x="228.9" y="631.2" width="25.90" height="55.40" fill="#86ccd9" stroke="#444" stroke-width="0.5"/>
<rect x="228.9" y="686.00" width="25.90" height="1.2" fill="#222"/>
<circle cx="197.5" cy="555.4" r="1.2" fill="#000"/>
<circle cx="200.2" cy="569.5" r="1.2" fill="#000"/>
<circle cx="204.8" cy="570.5" r="1.2" fill="#000"/>
<circle cx="206.0" cy="577.7" r="1.2" fill="#000"/>
<circle cx="206.0" cy="586.2" r="1.2" fill="#000"/>
<circle cx="198.3" cy="588.5" r="1.2" fill="#000"/>
<circle cx="206.8" cy="590.8" r="1.2" fill="#000"/>
<circle cx="210.5" cy="590.5" r="1.2" fill="#000"/>
<circle cx="216.8" cy="592.0" r="1.2" fill="#000"/>
<circle cx="207.5" cy="593.1" r="1.2" fill="#000"/>
<circle cx="209.8" cy="593.1" r="1.2" fill="#000"/>
<circle cx="214.8" cy="593.5" r="1.2" fill="#000"/>
<circle cx="217.8" cy="596.6" r="1.2" fill="#000"/>
<circle cx="194.5" cy="597.7" r="1.2" fill="#000"/>
<circle cx="196.0" cy="598.5" r="1.2" fill="#000"/>
<circle cx="199.7" cy="598.2" r="1.2" fill="#000"/>
<circle cx="198.6" cy="600.0" r="1.2" fill="#000"/>
<circle cx="203.5" cy="600.3" r="1.2" fill="#000"/>
<circle cx="210.2" cy="598.8" r="1.2" fill="#000"/>
<circle cx="212.2" cy="603.8" r="1.2" fill="#000"/>
<circle cx="199.4" cy="605.8" r="1.2" fill="#000"/>
<circle cx="213.7" cy="608.2" r="1.2" fill="#000"/>
<circle cx="199.8" cy="609.5" r="1.2" fill="#000"/>
<circle cx="201.2" cy="609.2" r="1.2" fill="#000"/>
<circle cx="205.5" cy="610.0" r="1.2" fill="#000"/>
<circle cx="195.5" cy="613.8" r="1.2" fill="#000"/>
<circle cx="204.0" cy="613.8" r="1.2" fill="#000"/>
<circle cx="211.2" cy="614.2" r="1.2" fill="#000"/>
<circle cx="220.5" cy="616.2" r="1.2" fill="#000"/>
<circle cx="219.1" cy="616.6" r="1.2" fill="#000"/>
<circle cx="204.0" cy="619.7" r="1.2" fill="#000"/>
<circle cx="212.5" cy="621.5" r="1.2" fill="#000"/>
<circle cx="198.6" cy="626.2" r="1.2" fill="#000"/>
<circle cx="206.3" cy="629.7" r="1.2" fill="#000"/>
<circle cx="218.2" cy="629.7" r="1.2" fill="#000"/>
<circle cx="241.4" cy="540.8" r="1.2" fill="#000"/>
<circle cx="254.0" cy="582.0" r="1.2" fill="#000"/>
<circle cx="236.0" cy="583.4" r="1.2" fill="#000"/>
<circle cx="240.9" cy="587.7" r="1.2" fill="#000"/>
<circle cx="242.2" cy="588.9" r="1.2" fill="#000"/>
<circle cx="234.3" cy="592.0" r="1.2" fill="#000"/>
<circle cx="237.5" cy="608.2" r="1.2" fill="#000"/>
<circle cx="239.1" cy="610.0" r="1.2" fill="#000"/>
<circle cx="235.2" cy="610.5" r="1.2" fill="#000"/>
<circle cx="244.8" cy="618.2" r="1.2" fill="#000"/>
<circle cx="232.5" cy="618.9" r="1.2" fill="#000"/>
<circle cx="251.2" cy="620.9" r="1.2" fill="#000"/>
<circle cx="232.5" cy="629.7" r="1.2" fill="#000"/>
<circle cx="212.2" cy="621.5" r="1.2" fill="#000"/>
<circle cx="198.6" cy="626.2" r="1.2" fill="#000"/>
<circle cx="206.6" cy="630.0" r="1.2" fill="#000"/>
<circle cx="217.8" cy="630.5" r="1.2" fill="#000"/>
<circle cx="195.1" cy="632.8" r="1.2" fill="#000"/>
<circle cx="197.8" cy="633.5" r="1.2" fill="#000"/>
<circle cx="194.0" cy="642.3" r="1.2" fill="#000"/>
<circle cx="202.2" cy="642.0" r="1.2" fill="#000"/>
<circle cx="220.5" cy="642.3" r="1.2" fill="#000"/>
<circle cx="220.5" cy="644.3" r="1.2" fill="#000"/>
<circle cx="218.2" cy="645.4" r="1.2" fill="#000"/>
<circle cx="212.9" cy="654.2" r="1.2" fill="#000"/>
<circle cx="216.8" cy="655.1" r="1.2" fill="#000"/>
<circle cx="203.2" cy="670.8" r="1.2" fill="#000"/>
<circle cx="202.9" cy="684.3" r="1.2" fill="#000"/>
<circle cx="197.5" cy="686.6" r="1.2" fill="#000"/>
<circle cx="201.7" cy="686.6" r="1.2" fill="#000"/>
<circle cx="203.2" cy="686.6" r="1.2" fill="#000"/>
<circle cx="204.8" cy="686.6" r="1.2" fill="#000"/>
<circle cx="206.3" cy="686.6" r="1.2" fill="#000"/>
<circle cx="210.5" cy="686.6" r="1.2" fill="#000"/>
<circle cx="212.2" cy="686.6" r="1.2" fill="#000"/>
<circle cx="214.0" cy="686.6" r="1.2" fill="#000"/>
<circle cx="217.8" cy="686.6" r="1.2" fill="#000"/>
<circle cx="219.7" cy="686.6" r="1.2" fill="#000"/>
<circle cx="251.2" cy="620.8" r="1.2" fill="#000"/>
<circle cx="232.5" cy="630.5" r="1.2" fill="#000"/>
<circle cx="237.1" cy="633.8" r="1.2" fill="#000"/>
<circle cx="242.2" cy="635.4" r="1.2" fill="#000"/>
<circle cx="244.8" cy="634.6" r="1.2" fill="#000"/>
<circle cx="246.0" cy="637.2" r="1.2" fill="#000"/>
<circle cx="231.4" cy="641.5" r="1.2" fill="#000"/>
<circle cx="229.8" cy="646.5" r="1.2" fill="#000"/>
<circle cx="247.5" cy="650.0" r="1.2" fill="#000"/>
<circle cx="230.2" cy="651.8" r="1.2" fill="#000"/>
<circle cx="232.0" cy="651.8" r="1.2" fill="#000"/>
<circle cx="243.2" cy="657.7" r="1.2" fill="#000"/>
<circle cx="247.8" cy="675.8" r="1.2" fill="#000"/>
<circle cx="249.8" cy="684.3" r="1.2" fill="#000"/>
<circle cx="244.8" cy="709.7" r="1.2" fill="#000"/>
<circle cx="229.5" cy="686.6" r="1.2" fill="#000"/>
<circle cx="230.6" cy="686.6" r="1.2" fill="#000"/>
<circle cx="231.6" cy="686.6" r="1.2" fill="#000"/>
<circle cx="232.6" cy="686.6" r="1.2" fill="#000"/>
<circle cx="233.6" cy="686.6" r="1.2" fill="#000"/>
<circle cx="234.6" cy="686.6" r="1.2" fill="#000"/>
<circle cx="235.7" cy="686.6" r="1.2" fill="#000"/>
<circle cx="236.7" cy="686.6" r="1.2" fill="#000"/>
<circle cx="237.7" cy="686.6" r="1.2" fill="#000"/>
<circle cx="238.7" cy="686.6" r="1.2" fill="#000"/>
<circle cx="239.8" cy="686.6" r="1.2" fill="#000"/>
<circle cx="240.8" cy="686.6" r="1.2" fill="#000"/>
<circle cx="241.8" cy="686.6" r="1.2" fill="#000"/>
<circle cx="242.8" cy="686.6" r="1.2" fill="#000"/>
<circle cx="243.8" cy="686.6" r="1.2" fill="#000"/>
<circle cx="244.9" cy="686.6" r="1.2" fill="#000"/>
<circle cx="245.9" cy="686.6" r="1.2" fill="#000"/>
<circle cx="246.9" cy="686.6" r="1.2" fill="#000"/>
<circle cx="247.9" cy="686.6" r="1.2" fill="#000"/>
<circle cx="248.9" cy="686.6" r="1.2" fill="#000"/>
<circle cx="250.0" cy="686.6" r="1.2" fill="#000"/>
<circle cx="251.0" cy="686.6" r="1.2" fill="#000"/>
<circle cx="252.0" cy="686.6" r="1.2" fill="#000"/>
<circle cx="253.0" cy="686.6" r="1.2" fill="#000"/>
<circle cx="254.1" cy="686.6" r="1.2" fill="#000"/>
<circle cx="255.1" cy="686.6" r="1.2" fill="#000"/>
<rect x="186.99" y="516.4" width="75.0" height="202.50" fill="none" stroke="#9a9a9a" stroke-width="0.7"/>
<rect x="265.16" y="506.3" width="75.0" height="10.10" fill="#d9d9d9" stroke="#8c8c8c" stroke-width="0.55"/>
<text x="303.05999999999995" y="513.3" font-family="'Liberation Sans', sans-serif" font-size="4.5" text-anchor="middle" fill="#333" stroke="#333" stroke-width="0" >6</text>
<rect x="265.16" y="516.4" width="75.0" height="202.50" fill="#fff"/>
<rect x="265.16" y="530.52" width="75.0" height="0.4" fill="#f2f2f2"/>
<rect x="265.16" y="565.07" width="75.0" height="0.4" fill="#f2f2f2"/>
<rect x="265.16" y="599.62" width="75.0" height="0.4" fill="#f2f2f2"/>
<rect x="265.16" y="634.17" width="75.0" height="0.4" fill="#f2f2f2"/>
<rect x="265.16" y="668.72" width="75.0" height="0.4" fill="#f2f2f2"/>
<rect x="265.16" y="703.27" width="75.0" height="0.4" fill="#f2f2f2"/>
<rect x="265.16" y="547.70" width="75.0" height="0.6" fill="#e8e8e8"/>
<rect x="265.16" y="582.25" width="75.0" height="0.6" fill="#e8e8e8"/>
<rect x="265.16" y="616.80" width="75.0" height="0.6" fill="#e8e8e8"/>
<rect x="265.16" y="651.35" width="75.0" height="0.6" fill="#e8e8e8"/>
<rect x="265.16" y="685.90" width="75.0" height="0.6" fill="#e8e8e8"/>
<rect x="285.31" y="516.4" width="0.6" height="202.50" fill="#e8e8e8"/>
<rect x="285.36" y="718.9" width="0.5" height="1.6" fill="#555"/>
<rect x="319.41" y="516.4" width="0.6" height="202.50" fill="#e8e8e8"/>
<rect x="319.46" y="718.9" width="0.5" height="1.6" fill="#555"/>
<rect x="285.31" y="545.4" width="0.6" height="28.00" fill="#333"/>
<rect x="285.31" y="619.2" width="0.6" height="67.40" fill="#333"/>
<rect x="272.5" y="573.4" width="26.10" height="45.80" fill="#f8b4b6" stroke="#444" stroke-width="0.5"/>
<rect x="272.5" y="589.40" width="26.10" height="1.2" fill="#222"/>
<rect x="319.41" y="539.5" width="0.6" height="51.00" fill="#333"/>
<rect x="319.41" y="683.5" width="0.6" height="11.50" fill="#333"/>
<rect x="307.1" y="590.5" width="25.70" height="93.00" fill="#86ccd9" stroke="#444" stroke-width="0.5"/>
<rect x="307.1" y="618.60" width="25.70" height="1.2" fill="#222"/>
<circle cx="283.1" cy="545.4" r="1.2" fill="#000"/>
<circle cx="282.8" cy="548.2" r="1.2" fill="#000"/>
<circle cx="287.4" cy="551.1" r="1.2" fill="#000"/>
<circle cx="298.2" cy="550.0" r="1.2" fill="#000"/>
<circle cx="298.5" cy="552.8" r="1.2" fill="#000"/>
<circle cx="297.4" cy="553.8" r="1.2" fill="#000"/>
<circle cx="274.0" cy="565.4" r="1.2" fill="#000"/>
<circle cx="291.2" cy="563.5" r="1.2" fill="#000"/>
<circle cx="295.1" cy="566.6" r="1.2" fill="#000"/>
<circle cx="296.6" cy="566.2" r="1.2" fill="#000"/>
<circle cx="295.8" cy="569.2" r="1.2" fill="#000"/>
<circle cx="288.9" cy="571.2" r="1.2" fill="#000"/>
<circle cx="297.1" cy="571.5" r="1.2" fill="#000"/>
<circle cx="274.3" cy="573.8" r="1.2" fill="#000"/>
<circle cx="273.5" cy="575.1" r="1.2" fill="#000"/>
<circle cx="289.7" cy="573.1" r="1.2" fill="#000"/>
<circle cx="293.8" cy="573.8" r="1.2" fill="#000"/>
<circle cx="293.5" cy="576.2" r="1.2" fill="#000"/>
<circle cx="295.5" cy="576.9" r="1.2" fill="#000"/>
<circle cx="297.1" cy="578.5" r="1.2" fill="#000"/>
<circle cx="288.2" cy="577.7" r="1.2" fill="#000"/>
<circle cx="280.5" cy="578.2" r="1.2" fill="#000"/>
<circle cx="279.4" cy="580.3" r="1.2" fill="#000"/>
<circle cx="298.2" cy="583.4" r="1.2" fill="#000"/>
<circle cx="282.5" cy="584.9" r="1.2" fill="#000"/>
<circle cx="274.0" cy="586.6" r="1.2" fill="#000"/>
<circle cx="294.8" cy="590.0" r="1.2" fill="#000"/>
<circle cx="297.7" cy="591.5" r="1.2" fill="#000"/>
<circle cx="273.1" cy="593.1" r="1.2" fill="#000"/>
<circle cx="281.7" cy="592.6" r="1.2" fill="#000"/>
<circle cx="288.6" cy="592.6" r="1.2" fill="#000"/>
<circle cx="277.8" cy="593.8" r="1.2" fill="#000"/>
<circle cx="277.8" cy="597.7" r="1.2" fill="#000"/>
<circle cx="281.2" cy="603.1" r="1.2" fill="#000"/>
<circle cx="292.0" cy="608.0" r="1.2" fill="#000"/>
<circle cx="278.9" cy="611.5" r="1.2" fill="#000"/>
<circle cx="298.9" cy="613.1" r="1.2" fill="#000"/>
<circle cx="287.4" cy="616.2" r="1.2" fill="#000"/>
<circle cx="275.5" cy="619.2" r="1.2" fill="#000"/>
<circle cx="279.7" cy="622.6" r="1.2" fill="#000"/>
<circle cx="285.8" cy="624.2" r="1.2" fill="#000"/>
<circle cx="275.5" cy="627.4" r="1.2" fill="#000"/>
<circle cx="275.8" cy="629.2" r="1.2" fill="#000"/>
<circle cx="297.8" cy="627.2" r="1.2" fill="#000"/>
<circle cx="312.5" cy="539.2" r="1.2" fill="#000"/>
<circle cx="319.7" cy="548.0" r="1.2" fill="#000"/>
<circle cx="310.0" cy="552.6" r="1.2" fill="#000"/>
<circle cx="330.8" cy="562.0" r="1.2" fill="#000"/>
<circle cx="332.8" cy="566.6" r="1.2" fill="#000"/>
<circle cx="330.2" cy="570.0" r="1.2" fill="#000"/>
<circle cx="313.2" cy="570.5" r="1.2" fill="#000"/>
<circle cx="307.4" cy="572.0" r="1.2" fill="#000"/>
<circle cx="308.9" cy="574.3" r="1.2" fill="#000"/>
<circle cx="328.6" cy="576.2" r="1.2" fill="#000"/>
<circle cx="332.8" cy="583.8" r="1.2" fill="#000"/>
<circle cx="317.1" cy="585.1" r="1.2" fill="#000"/>
<circle cx="306.3" cy="585.8" r="1.2" fill="#000"/>
<circle cx="330.8" cy="585.8" r="1.2" fill="#000"/>
<circle cx="328.9" cy="590.5" r="1.2" fill="#000"/>
<circle cx="320.9" cy="590.5" r="1.2" fill="#000"/>
<circle cx="326.6" cy="595.1" r="1.2" fill="#000"/>
<circle cx="319.4" cy="600.8" r="1.2" fill="#000"/>
<circle cx="318.9" cy="602.0" r="1.2" fill="#000"/>
<circle cx="327.7" cy="603.8" r="1.2" fill="#000"/>
<circle cx="317.4" cy="606.5" r="1.2" fill="#000"/>
<circle cx="310.5" cy="608.2" r="1.2" fill="#000"/>
<circle cx="315.8" cy="609.5" r="1.2" fill="#000"/>
<circle cx="312.5" cy="611.1" r="1.2" fill="#000"/>
<circle cx="317.1" cy="613.1" r="1.2" fill="#000"/>
<circle cx="328.6" cy="614.6" r="1.2" fill="#000"/>
<circle cx="322.5" cy="615.8" r="1.2" fill="#000"/>
<circle cx="321.2" cy="620.0" r="1.2" fill="#000"/>
<circle cx="312.5" cy="625.1" r="1.2" fill="#000"/>
<circle cx="328.2" cy="623.1" r="1.2" fill="#000"/>
<circle cx="322.8" cy="625.7" r="1.2" fill="#000"/>
<circle cx="320.9" cy="625.7" r="1.2" fill="#000"/>
<circle cx="320.9" cy="627.7" r="1.2" fill="#000"/>
<circle cx="284.8" cy="640.0" r="1.2" fill="#000"/>
<circle cx="282.3" cy="642.6" r="1.2" fill="#000"/>
<circle cx="282.0" cy="671.2" r="1.2" fill="#000"/>
<circle cx="287.8" cy="674.3" r="1.2" fill="#000"/>
<circle cx="276.2" cy="686.6" r="1.2" fill="#000"/>
<circle cx="277.8" cy="686.6" r="1.2" fill="#000"/>
<circle cx="279.4" cy="686.6" r="1.2" fill="#000"/>
<circle cx="280.8" cy="686.6" r="1.2" fill="#000"/>
<circle cx="309.7" cy="637.2" r="1.2" fill="#000"/>
<circle cx="330.2" cy="637.2" r="1.2" fill="#000"/>
<circle cx="332.0" cy="639.7" r="1.2" fill="#000"/>
<circle cx="319.2" cy="642.0" r="1.2" fill="#000"/>
<circle cx="308.2" cy="647.7" r="1.2" fill="#000"/>
<circle cx="322.0" cy="656.2" r="1.2" fill="#000"/>
<circle cx="320.5" cy="656.9" r="1.2" fill="#000"/>
<circle cx="314.8" cy="662.3" r="1.2" fill="#000"/>
<circle cx="330.8" cy="666.2" r="1.2" fill="#000"/>
<circle cx="331.2" cy="682.8" r="1.2" fill="#000"/>
<circle cx="313.8" cy="694.9" r="1.2" fill="#000"/>
<circle cx="306.3" cy="686.6" r="1.2" fill="#000"/>
<circle cx="307.7" cy="686.6" r="1.2" fill="#000"/>
<circle cx="311.2" cy="686.6" r="1.2" fill="#000"/>
<circle cx="315.1" cy="686.6" r="1.2" fill="#000"/>
<circle cx="316.6" cy="686.6" r="1.2" fill="#000"/>
<circle cx="318.2" cy="686.6" r="1.2" fill="#000"/>
<circle cx="319.7" cy="686.6" r="1.2" fill="#000"/>
<circle cx="321.2" cy="686.6" r="1.2" fill="#000"/>
<circle cx="322.8" cy="686.6" r="1.2" fill="#000"/>
<circle cx="327.8" cy="686.6" r="1.2" fill="#000"/>
<circle cx="330.9" cy="686.6" r="1.2" fill="#000"/>
<rect x="265.16" y="516.4" width="75.0" height="202.50" fill="none" stroke="#9a9a9a" stroke-width="0.7"/>
<rect x="343.33" y="506.3" width="75.0" height="10.10" fill="#d9d9d9" stroke="#8c8c8c" stroke-width="0.55"/>
<text x="381.22999999999996" y="513.3" font-family="'Liberation Sans', sans-serif" font-size="4.5" text-anchor="middle" fill="#333" stroke="#333" stroke-width="0" >12</text>
<rect x="343.33" y="516.4" width="75.0" height="202.50" fill="#fff"/>
<rect x="343.33" y="530.52" width="75.0" height="0.4" fill="#f2f2f2"/>
<rect x="343.33" y="565.07" width="75.0" height="0.4" fill="#f2f2f2"/>
<rect x="343.33" y="599.62" width="75.0" height="0.4" fill="#f2f2f2"/>
<rect x="343.33" y="634.17" width="75.0" height="0.4" fill="#f2f2f2"/>
<rect x="343.33" y="668.72" width="75.0" height="0.4" fill="#f2f2f2"/>
<rect x="343.33" y="703.27" width="75.0" height="0.4" fill="#f2f2f2"/>
<rect x="343.33" y="547.70" width="75.0" height="0.6" fill="#e8e8e8"/>
<rect x="343.33" y="582.25" width="75.0" height="0.6" fill="#e8e8e8"/>
<rect x="343.33" y="616.80" width="75.0" height="0.6" fill="#e8e8e8"/>
<rect x="343.33" y="651.35" width="75.0" height="0.6" fill="#e8e8e8"/>
<rect x="343.33" y="685.90" width="75.0" height="0.6" fill="#e8e8e8"/>
<rect x="363.48" y="516.4" width="0.6" height="202.50" fill="#e8e8e8"/>
<rect x="363.53" y="718.9" width="0.5" height="1.6" fill="#555"/>
<rect x="397.58" y="516.4" width="0.6" height="202.50" fill="#e8e8e8"/>
<rect x="397.63" y="718.9" width="0.5" height="1.6" fill="#555"/>
<rect x="363.48" y="541.5" width="0.6" height="13.10" fill="#333"/>
<rect x="363.48" y="603.1" width="0.6" height="56.60" fill="#333"/>
<rect x="351.1" y="554.6" width="25.50" height="48.50" fill="#f8b4b6" stroke="#444" stroke-width="0.5"/>
<rect x="351.1" y="570.60" width="25.50" height="1.2" fill="#222"/>
<rect x="397.58" y="536.9" width="0.6" height="26.60" fill="#333"/>
<rect x="397.58" y="631.85" width="0.6" height="54.75" fill="#333"/>
<rect x="385.4" y="563.5" width="25.70" height="68.35" fill="#86ccd9" stroke="#444" stroke-width="0.5"/>
<rect x="385.4" y="586.60" width="25.70" height="1.2" fill="#222"/>
<circle cx="370.8" cy="540.3" r="1.2" fill="#000"/>
<circle cx="363.4" cy="541.5" r="1.2" fill="#000"/>
<circle cx="358.9" cy="543.1" r="1.2" fill="#000"/>
<circle cx="356.2" cy="544.6" r="1.2" fill="#000"/>
<circle cx="365.1" cy="545.1" r="1.2" fill="#000"/>
<circle cx="366.9" cy="547.7" r="1.2" fill="#000"/>
<circle cx="363.1" cy="553.1" r="1.2" fill="#000"/>
<circle cx="351.8" cy="554.3" r="1.2" fill="#000"/>
<circle cx="352.3" cy="555.8" r="1.2" fill="#000"/>
<circle cx="354.2" cy="555.4" r="1.2" fill="#000"/>
<circle cx="361.2" cy="556.2" r="1.2" fill="#000"/>
<circle cx="374.2" cy="560.0" r="1.2" fill="#000"/>
<circle cx="373.8" cy="563.8" r="1.2" fill="#000"/>
<circle cx="372.3" cy="567.7" r="1.2" fill="#000"/>
<circle cx="365.1" cy="569.5" r="1.2" fill="#000"/>
<circle cx="365.8" cy="573.5" r="1.2" fill="#000"/>
<circle cx="368.9" cy="574.9" r="1.2" fill="#000"/>
<circle cx="370.3" cy="574.9" r="1.2" fill="#000"/>
<circle cx="357.2" cy="588.9" r="1.2" fill="#000"/>
<circle cx="370.8" cy="589.2" r="1.2" fill="#000"/>
<circle cx="362.3" cy="595.1" r="1.2" fill="#000"/>
<circle cx="356.5" cy="601.2" r="1.2" fill="#000"/>
<circle cx="370.5" cy="603.5" r="1.2" fill="#000"/>
<circle cx="350.0" cy="608.9" r="1.2" fill="#000"/>
<circle cx="374.6" cy="614.6" r="1.2" fill="#000"/>
<circle cx="367.4" cy="618.2" r="1.2" fill="#000"/>
<circle cx="392.3" cy="538.2" r="1.2" fill="#000"/>
<circle cx="398.5" cy="536.9" r="1.2" fill="#000"/>
<circle cx="398.9" cy="543.1" r="1.2" fill="#000"/>
<circle cx="398.2" cy="552.0" r="1.2" fill="#000"/>
<circle cx="396.5" cy="554.6" r="1.2" fill="#000"/>
<circle cx="406.5" cy="554.6" r="1.2" fill="#000"/>
<circle cx="392.0" cy="556.6" r="1.2" fill="#000"/>
<circle cx="384.3" cy="559.2" r="1.2" fill="#000"/>
<circle cx="404.3" cy="561.2" r="1.2" fill="#000"/>
<circle cx="411.1" cy="563.5" r="1.2" fill="#000"/>
<circle cx="388.5" cy="565.4" r="1.2" fill="#000"/>
<circle cx="390.8" cy="565.4" r="1.2" fill="#000"/>
<circle cx="393.5" cy="569.7" r="1.2" fill="#000"/>
<circle cx="390.8" cy="571.5" r="1.2" fill="#000"/>
<circle cx="400.0" cy="575.1" r="1.2" fill="#000"/>
<circle cx="410.5" cy="583.5" r="1.2" fill="#000"/>
<circle cx="405.8" cy="585.1" r="1.2" fill="#000"/>
<circle cx="404.6" cy="586.9" r="1.2" fill="#000"/>
<circle cx="392.8" cy="589.2" r="1.2" fill="#000"/>
<circle cx="390.8" cy="597.7" r="1.2" fill="#000"/>
<circle cx="399.5" cy="597.7" r="1.2" fill="#000"/>
<circle cx="386.2" cy="600.8" r="1.2" fill="#000"/>
<circle cx="406.6" cy="602.3" r="1.2" fill="#000"/>
<circle cx="393.4" cy="609.2" r="1.2" fill="#000"/>
<circle cx="401.2" cy="614.6" r="1.2" fill="#000"/>
<circle cx="396.2" cy="622.8" r="1.2" fill="#000"/>
<circle cx="360.5" cy="635.4" r="1.2" fill="#000"/>
<circle cx="364.2" cy="659.7" r="1.2" fill="#000"/>
<circle cx="364.2" cy="686.6" r="1.2" fill="#000"/>
<circle cx="370.8" cy="686.6" r="1.2" fill="#000"/>
<circle cx="373.1" cy="686.6" r="1.2" fill="#000"/>
<circle cx="391.5" cy="631.8" r="1.2" fill="#000"/>
<circle cx="399.2" cy="636.9" r="1.2" fill="#000"/>
<circle cx="402.0" cy="652.0" r="1.2" fill="#000"/>
<circle cx="393.4" cy="675.4" r="1.2" fill="#000"/>
<circle cx="386.9" cy="686.6" r="1.2" fill="#000"/>
<circle cx="401.1" cy="686.6" r="1.2" fill="#000"/>
<circle cx="402.3" cy="686.6" r="1.2" fill="#000"/>
<circle cx="407.7" cy="686.6" r="1.2" fill="#000"/>
<circle cx="409.7" cy="686.6" r="1.2" fill="#000"/>
<rect x="343.33" y="516.4" width="75.0" height="202.50" fill="none" stroke="#9a9a9a" stroke-width="0.7"/>
<rect x="421.50" y="506.3" width="75.0" height="10.10" fill="#d9d9d9" stroke="#8c8c8c" stroke-width="0.55"/>
<text x="459.4" y="513.3" font-family="'Liberation Sans', sans-serif" font-size="4.5" text-anchor="middle" fill="#333" stroke="#333" stroke-width="0" >18</text>
<rect x="421.50" y="516.4" width="75.0" height="202.50" fill="#fff"/>
<rect x="421.50" y="530.52" width="75.0" height="0.4" fill="#f2f2f2"/>
<rect x="421.50" y="565.07" width="75.0" height="0.4" fill="#f2f2f2"/>
<rect x="421.50" y="599.62" width="75.0" height="0.4" fill="#f2f2f2"/>
<rect x="421.50" y="634.17" width="75.0" height="0.4" fill="#f2f2f2"/>
<rect x="421.50" y="668.72" width="75.0" height="0.4" fill="#f2f2f2"/>
<rect x="421.50" y="703.27" width="75.0" height="0.4" fill="#f2f2f2"/>
<rect x="421.50" y="547.70" width="75.0" height="0.6" fill="#e8e8e8"/>
<rect x="421.50" y="582.25" width="75.0" height="0.6" fill="#e8e8e8"/>
<rect x="421.50" y="616.80" width="75.0" height="0.6" fill="#e8e8e8"/>
<rect x="421.50" y="651.35" width="75.0" height="0.6" fill="#e8e8e8"/>
<rect x="421.50" y="685.90" width="75.0" height="0.6" fill="#e8e8e8"/>
<rect x="441.65" y="516.4" width="0.6" height="202.50" fill="#e8e8e8"/>
<rect x="441.70" y="718.9" width="0.5" height="1.6" fill="#555"/>
<rect x="475.75" y="516.4" width="0.6" height="202.50" fill="#e8e8e8"/>
<rect x="475.80" y="718.9" width="0.5" height="1.6" fill="#555"/>
<rect x="441.65" y="526.5" width="0.6" height="22.30" fill="#333"/>
<rect x="441.65" y="583.5" width="0.6" height="43.90" fill="#333"/>
<rect x="429.5" y="548.8" width="25.40" height="34.70" fill="#f8b4b6" stroke="#444" stroke-width="0.5"/>
<rect x="429.5" y="561.40" width="25.40" height="1.2" fill="#222"/>
<rect x="475.75" y="525.8" width="0.6" height="33.90" fill="#333"/>
<rect x="475.75" y="605.4" width="0.6" height="40.00" fill="#333"/>
<rect x="463.7" y="559.7" width="25.50" height="45.70" fill="#86ccd9" stroke="#444" stroke-width="0.5"/>
<rect x="463.7" y="573.25" width="25.50" height="1.2" fill="#222"/>
<circle cx="442.6" cy="526.8" r="1.2" fill="#000"/>
<circle cx="437.2" cy="529.2" r="1.2" fill="#000"/>
<circle cx="448.3" cy="529.2" r="1.2" fill="#000"/>
<circle cx="478.8" cy="525.5" r="1.2" fill="#000"/>
<circle cx="468.0" cy="531.9" r="1.2" fill="#000"/>
<circle cx="467.7" cy="537.8" r="1.2" fill="#000"/>
<circle cx="429.8" cy="544.9" r="1.2" fill="#000"/>
<circle cx="448.8" cy="543.1" r="1.2" fill="#000"/>
<circle cx="447.7" cy="544.3" r="1.2" fill="#000"/>
<circle cx="446.2" cy="548.0" r="1.2" fill="#000"/>
<circle cx="454.5" cy="548.2" r="1.2" fill="#000"/>
<circle cx="451.1" cy="550.8" r="1.2" fill="#000"/>
<circle cx="451.8" cy="553.8" r="1.2" fill="#000"/>
<circle cx="430.8" cy="557.4" r="1.2" fill="#000"/>
<circle cx="430.3" cy="559.2" r="1.2" fill="#000"/>
<circle cx="431.1" cy="560.8" r="1.2" fill="#000"/>
<circle cx="434.2" cy="561.8" r="1.2" fill="#000"/>
<circle cx="436.9" cy="562.8" r="1.2" fill="#000"/>
<circle cx="441.5" cy="562.3" r="1.2" fill="#000"/>
<circle cx="450.3" cy="560.8" r="1.2" fill="#000"/>
<circle cx="431.1" cy="564.6" r="1.2" fill="#000"/>
<circle cx="444.9" cy="569.5" r="1.2" fill="#000"/>
<circle cx="450.3" cy="573.1" r="1.2" fill="#000"/>
<circle cx="440.0" cy="574.9" r="1.2" fill="#000"/>
<circle cx="447.7" cy="578.9" r="1.2" fill="#000"/>
<circle cx="431.5" cy="584.2" r="1.2" fill="#000"/>
<circle cx="429.1" cy="588.0" r="1.2" fill="#000"/>
<circle cx="440.3" cy="586.9" r="1.2" fill="#000"/>
<circle cx="436.2" cy="590.8" r="1.2" fill="#000"/>
<circle cx="438.8" cy="596.5" r="1.2" fill="#000"/>
<circle cx="438.8" cy="600.8" r="1.2" fill="#000"/>
<circle cx="449.2" cy="627.7" r="1.2" fill="#000"/>
<circle cx="466.9" cy="544.6" r="1.2" fill="#000"/>
<circle cx="480.3" cy="547.7" r="1.2" fill="#000"/>
<circle cx="465.2" cy="551.1" r="1.2" fill="#000"/>
<circle cx="465.2" cy="553.8" r="1.2" fill="#000"/>
<circle cx="475.2" cy="557.2" r="1.2" fill="#000"/>
<circle cx="463.7" cy="561.8" r="1.2" fill="#000"/>
<circle cx="467.5" cy="560.8" r="1.2" fill="#000"/>
<circle cx="480.3" cy="562.8" r="1.2" fill="#000"/>
<circle cx="481.8" cy="562.8" r="1.2" fill="#000"/>
<circle cx="486.5" cy="562.8" r="1.2" fill="#000"/>
<circle cx="481.1" cy="565.8" r="1.2" fill="#000"/>
<circle cx="486.5" cy="566.5" r="1.2" fill="#000"/>
<circle cx="478.8" cy="568.2" r="1.2" fill="#000"/>
<circle cx="466.0" cy="579.2" r="1.2" fill="#000"/>
<circle cx="473.8" cy="584.6" r="1.2" fill="#000"/>
<circle cx="480.0" cy="586.2" r="1.2" fill="#000"/>
<circle cx="486.2" cy="586.9" r="1.2" fill="#000"/>
<circle cx="468.0" cy="591.5" r="1.2" fill="#000"/>
<circle cx="482.6" cy="602.6" r="1.2" fill="#000"/>
<circle cx="469.8" cy="603.5" r="1.2" fill="#000"/>
<circle cx="470.8" cy="604.9" r="1.2" fill="#000"/>
<circle cx="464.5" cy="605.7" r="1.2" fill="#000"/>
<circle cx="481.5" cy="609.5" r="1.2" fill="#000"/>
<circle cx="484.2" cy="620.8" r="1.2" fill="#000"/>
<circle cx="487.2" cy="623.4" r="1.2" fill="#000"/>
<circle cx="481.5" cy="628.8" r="1.2" fill="#000"/>
<circle cx="429.5" cy="661.8" r="1.2" fill="#000"/>
<circle cx="442.2" cy="661.8" r="1.2" fill="#999"/>
<circle cx="468.0" cy="636.6" r="1.2" fill="#000"/>
<circle cx="469.2" cy="643.8" r="1.2" fill="#000"/>
<circle cx="478.8" cy="645.7" r="1.2" fill="#000"/>
<rect x="421.50" y="516.4" width="75.0" height="202.50" fill="none" stroke="#9a9a9a" stroke-width="0.7"/>
</svg>
</body></html>
